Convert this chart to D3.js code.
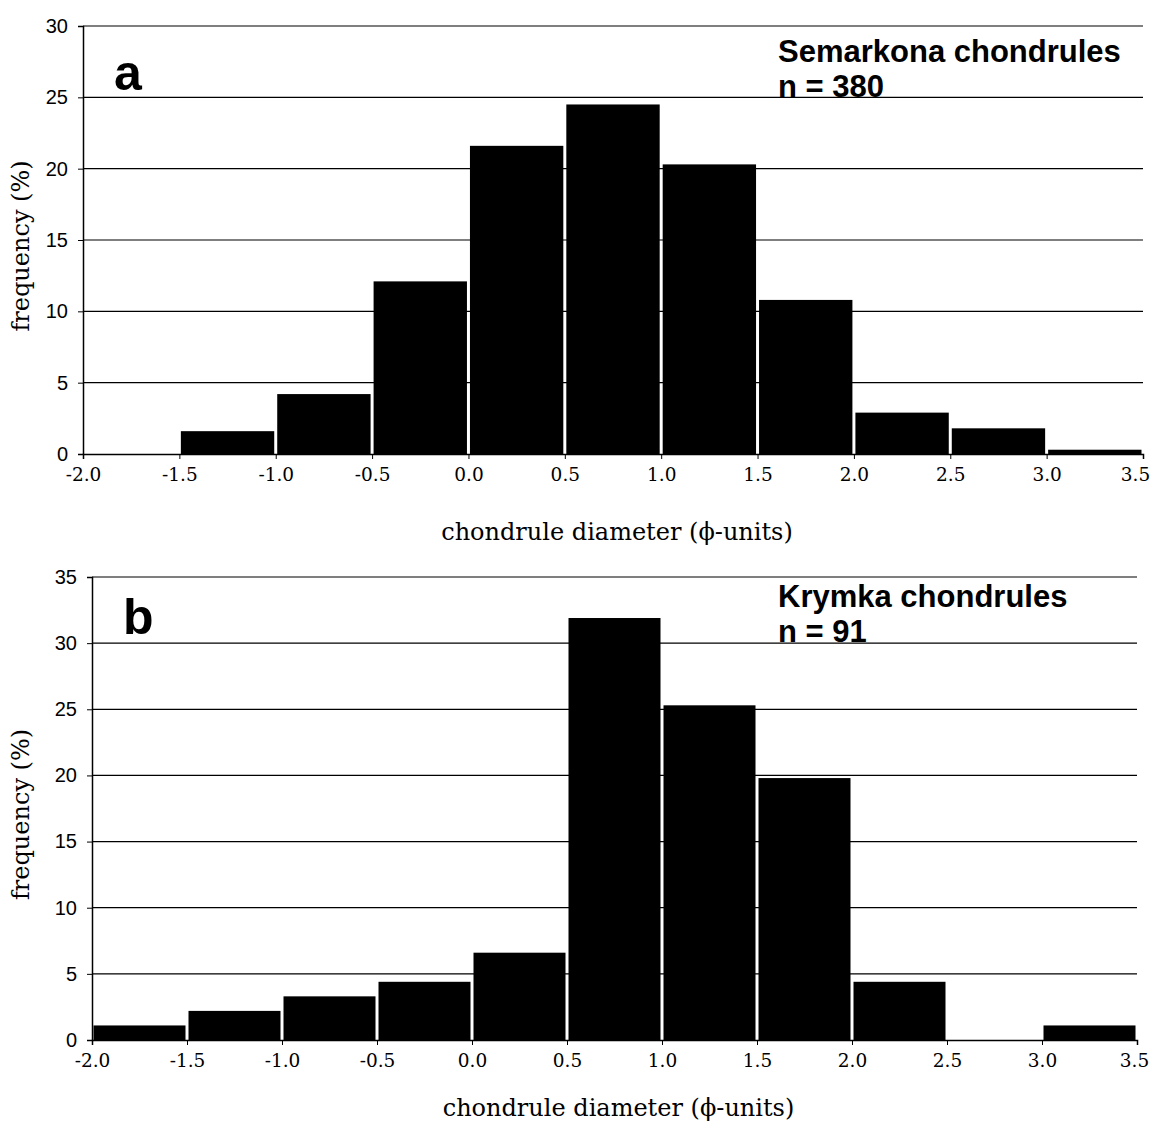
<!DOCTYPE html>
<html>
<head>
<meta charset="utf-8">
<script src="https://cdnjs.cloudflare.com/ajax/libs/d3/7.8.5/d3.min.js"></script>
<style>
  body { margin: 0; background: #fff; }
  .ytick text { font-family: "Liberation Sans", Arial, sans-serif; font-size: 20px; }
  .xtick text { font-family: "DejaVu Serif", "Liberation Serif", serif; font-size: 18.5px; }
</style>
</head>
<body>
<script>
// bin edges (phi units) and x tick labels
var binStarts = [-2.0, -1.5, -1.0, -0.5, 0.0, 0.5, 1.0, 1.5, 2.0, 2.5, 3.0];
var binWidth = 0.5;
var xTicks = [-2.0, -1.5, -1.0, -0.5, 0.0, 0.5, 1.0, 1.5, 2.0, 2.5, 3.0, 3.5];

// frequency (%) per bin
var semarkonaFreq = [0, 1.6, 4.2, 12.1, 21.6, 24.5, 20.3, 10.8, 2.9, 1.8, 0.3];
var krymkaFreq = [1.1, 2.2, 3.3, 4.4, 6.6, 31.9, 25.3, 19.8, 4.4, 0, 1.1];

var semarkonaTicks = [0, 5, 10, 15, 20, 25, 30];
var krymkaTicks = [0, 5, 10, 15, 20, 25, 30, 35];

var svg = d3.select("body").append("svg")
    .attr("width", 1156)
    .attr("height", 1129);

function drawPanel(opt) {
  var x = d3.scaleLinear().domain([-2.0, 3.5]).range([opt.left, opt.right]);
  var y = d3.scaleLinear().domain([0, d3.max(opt.yTicks)]).range([opt.bottom, opt.top]);
  var g = svg.append("g");

  // horizontal gridlines
  g.selectAll(".grid")
      .data(opt.yTicks.filter(function(d) { return d > 0; }))
      .enter().append("line")
      .attr("x1", opt.left).attr("x2", opt.right)
      .attr("y1", function(d) { return y(d); })
      .attr("y2", function(d) { return y(d); })
      .attr("stroke", "#000").attr("stroke-width", 1.2);

  // bars
  g.selectAll(".bar")
      .data(opt.values.map(function(v, i) { return {x0: binStarts[i], v: v}; })
                .filter(function(d) { return d.v > 0; }))
      .enter().append("rect")
      .attr("x", function(d) { return x(d.x0) + 1.5; })
      .attr("width", function(d) { return x(d.x0 + binWidth) - x(d.x0) - 3; })
      .attr("y", function(d) { return y(d.v); })
      .attr("height", function(d) { return opt.bottom - y(d.v); })
      .attr("fill", "#000");

  // y axis
  var yAxis = g.append("g")
      .attr("class", "ytick")
      .attr("transform", "translate(" + opt.left + ",0)")
      .call(d3.axisLeft(y).tickValues(opt.yTicks).tickSize(5).tickPadding(10));
  yAxis.select(".domain").attr("stroke-width", 1.5);

  // x axis
  var xAxis = g.append("g")
      .attr("class", "xtick")
      .attr("transform", "translate(0," + opt.bottom + ")")
      .call(d3.axisBottom(x).tickValues(xTicks).tickSize(5).tickPadding(9)
            .tickFormat(function(d) { return d.toFixed(1); }));
  xAxis.select(".domain").attr("stroke-width", 1.5);
  // keep the last label inside the page
  xAxis.selectAll(".tick text")
      .filter(function(d) { return d === 3.5; })
      .attr("dx", opt.lastDx);

  // x axis title
  svg.append("text")
      .attr("x", (opt.left + opt.right) / 2 + 4)
      .attr("y", opt.titleY)
      .attr("text-anchor", "middle")
      .style("font-family", "'DejaVu Serif', serif")
      .style("font-size", "24px")
      .text("chondrule diameter (\u03d5-units)");

  // y axis title
  svg.append("text")
      .attr("transform", "translate(29," + ((opt.top + opt.bottom) / 2 + 6) + ") rotate(-90)")
      .attr("text-anchor", "middle")
      .style("font-family", "'DejaVu Serif', serif")
      .style("font-size", "24px")
      .text("frequency (%)");

  // panel letter
  svg.append("text")
      .attr("x", opt.left + 31)
      .attr("y", opt.letterY)
      .style("font-family", "'Liberation Sans', Arial, sans-serif")
      .style("font-weight", "bold")
      .style("font-size", "50px")
      .text(opt.letter);

  // sample name + n
  var lab = svg.append("text")
      .style("font-family", "'Liberation Sans', Arial, sans-serif")
      .style("font-weight", "bold")
      .style("font-size", "31px");
  lab.append("tspan").attr("x", 778).attr("y", opt.nameY).text(opt.name);
  lab.append("tspan").attr("x", 778).attr("y", opt.nameY + 35).text(opt.n);
}

drawPanel({left: 83, right: 1143, top: 26, bottom: 454, yTicks: semarkonaTicks,
           values: semarkonaFreq, letter: "a", name: "Semarkona chondrules", n: "n = 380",
           titleY: 540, letterY: 90, nameY: 62, lastDx: -8});
drawPanel({left: 92, right: 1137, top: 577, bottom: 1040, yTicks: krymkaTicks,
           values: krymkaFreq, letter: "b", name: "Krymka chondrules", n: "n = 91",
           titleY: 1116, letterY: 634, nameY: 607, lastDx: -3});
</script>
</body>
</html>
